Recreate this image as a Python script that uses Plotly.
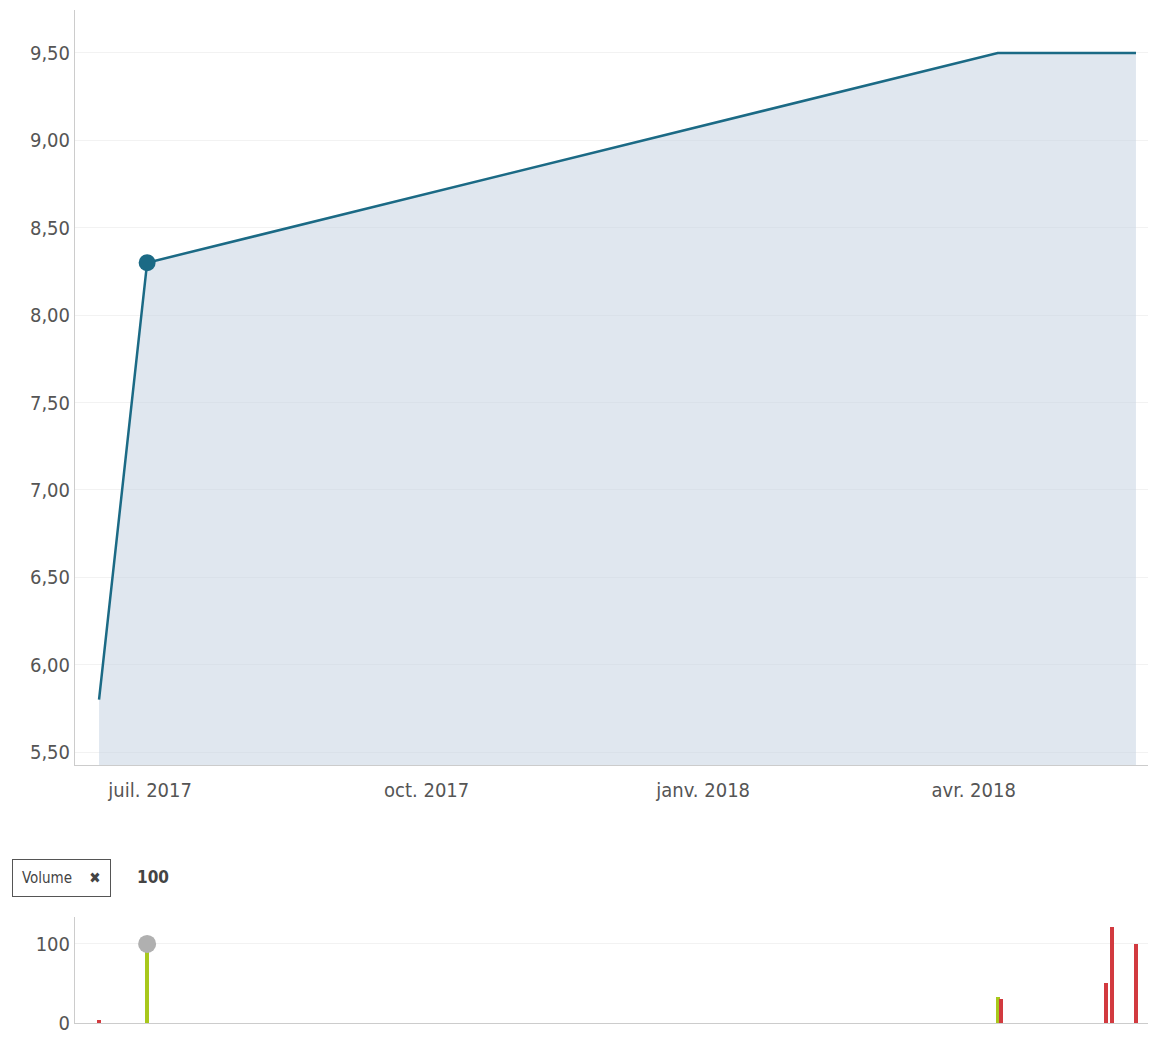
import plotly.graph_objects as go

# ---- data ----
dates = ["2017-06-14", "2017-06-30", "2018-04-09", "2018-04-10",
         "2018-05-15", "2018-05-17", "2018-05-25"]
prices = [5.80, 8.30, 9.50, 9.50, 9.50, 9.50, 9.50]
volumes = [4, 100, 33, 30, 50, 121, 100]

hover_date = "2017-06-30"
hover_price = 8.30
hover_volume = 100

y_ticks = [5.5, 6.0, 6.5, 7.0, 7.5, 8.0, 8.5, 9.0, 9.5]
y_ticktext = ["5,50", "6,00", "6,50", "7,00", "7,50", "8,00", "8,50", "9,00", "9,50"]
x_ticks = ["2017-07-01", "2017-10-01", "2018-01-01", "2018-04-01"]
x_ticktext = ["juil. 2017", "oct. 2017", "janv. 2018", "avr. 2018"]
vol_ticks = [0, 100]

# ---- style ----
FONT = "DejaVu Sans Condensed, Liberation Sans Narrow, sans-serif"
LINE = "#1b6a85"
FILL = "rgba(198,212,226,0.55)"
UP = "#a8c81c"
DOWN = "#d23a3f"
GRID = "#f2f2f2"
AXIS = "#cccccc"
TXT = "#555555"

bar_colors = []
for i, p in enumerate(prices):
    if i > 0 and p > prices[i - 1]:
        bar_colors.append(UP)
    else:
        bar_colors.append(DOWN)

fig = go.Figure()
fig.add_trace(go.Scatter(x=dates, y=prices, mode="lines", fill="tozeroy",
                         line=dict(color=LINE, width=2.5), fillcolor=FILL,
                         xaxis="x", yaxis="y", hoverinfo="skip"))
fig.add_trace(go.Scatter(x=[hover_date], y=[hover_price], mode="markers",
                         marker=dict(color=LINE, size=17),
                         xaxis="x", yaxis="y"))
fig.add_trace(go.Bar(x=dates, y=volumes, marker=dict(color=bar_colors, line=dict(width=0)),
                     width=1.3 * 86400000, xaxis="x2", yaxis="y2"))
fig.add_trace(go.Scatter(x=[hover_date], y=[hover_volume], mode="markers",
                         marker=dict(color="#b0b0b0", size=18),
                         xaxis="x2", yaxis="y2"))

# page is offset by the 8px body margin
FW, FH = 1140, 1041
L = 67
W = FW - L
xr = ["2017-06-06", "2018-05-29"]
fig.update_layout(
    width=FW, height=FH, showlegend=False,
    margin=dict(l=L, r=0, t=0, b=0, autoexpand=False),
    plot_bgcolor="white", paper_bgcolor="white",
    font=dict(family=FONT, color=TXT),
    bargap=0,
    xaxis=dict(domain=[0, 1], range=xr, type="date", tickvals=x_ticks, ticktext=x_ticktext,
               showgrid=False, showline=True, linecolor=AXIS, linewidth=1, ticks="",
               tickfont=dict(size=20, color=TXT, family=FONT), ticklabelstandoff=7,
               anchor="y", zeroline=False, automargin=False),
    yaxis=dict(domain=[1 - 757 / FH, 1 - 2 / FH], range=[5.426, 9.746],
               tickvals=y_ticks, ticktext=y_ticktext, showgrid=True, gridcolor=GRID,
               showline=True, linecolor=AXIS, linewidth=1, ticks="", zeroline=False,
               tickfont=dict(size=20, color=TXT, family=FONT), anchor="x", automargin=False),
    xaxis2=dict(domain=[0, 1], range=xr, type="date", matches="x", showticklabels=False,
                showgrid=False, showline=True, linecolor=AXIS, linewidth=1, ticks="",
                anchor="y2", zeroline=False, automargin=False),
    yaxis2=dict(domain=[1 - 1015 / FH, 1 - 909 / FH], range=[0, 134],
                tickvals=vol_ticks, showgrid=True, gridcolor=GRID,
                showline=True, linecolor=AXIS, linewidth=1, ticks="", zeroline=False,
                tickfont=dict(size=20, color=TXT, family=FONT), anchor="x2", automargin=False),
)

fig.add_annotation(xref="paper", yref="paper", x=(4 - L) / W, y=1 - 870 / FH,
                   xanchor="left", yanchor="middle", showarrow=False,
                   text="Volume&nbsp;&nbsp;&nbsp;&nbsp;<b>✖</b>",
                   font=dict(size=15, color="#444", family=FONT),
                   bordercolor="#555", borderwidth=1, borderpad=9, bgcolor="white")
fig.add_annotation(xref="paper", yref="paper", x=(127 - L) / W, y=1 - 869 / FH,
                   xanchor="left", yanchor="middle", showarrow=False,
                   text="<b>100</b>", font=dict(size=17, color="#444", family=FONT))

fig.write_html("out.html")
